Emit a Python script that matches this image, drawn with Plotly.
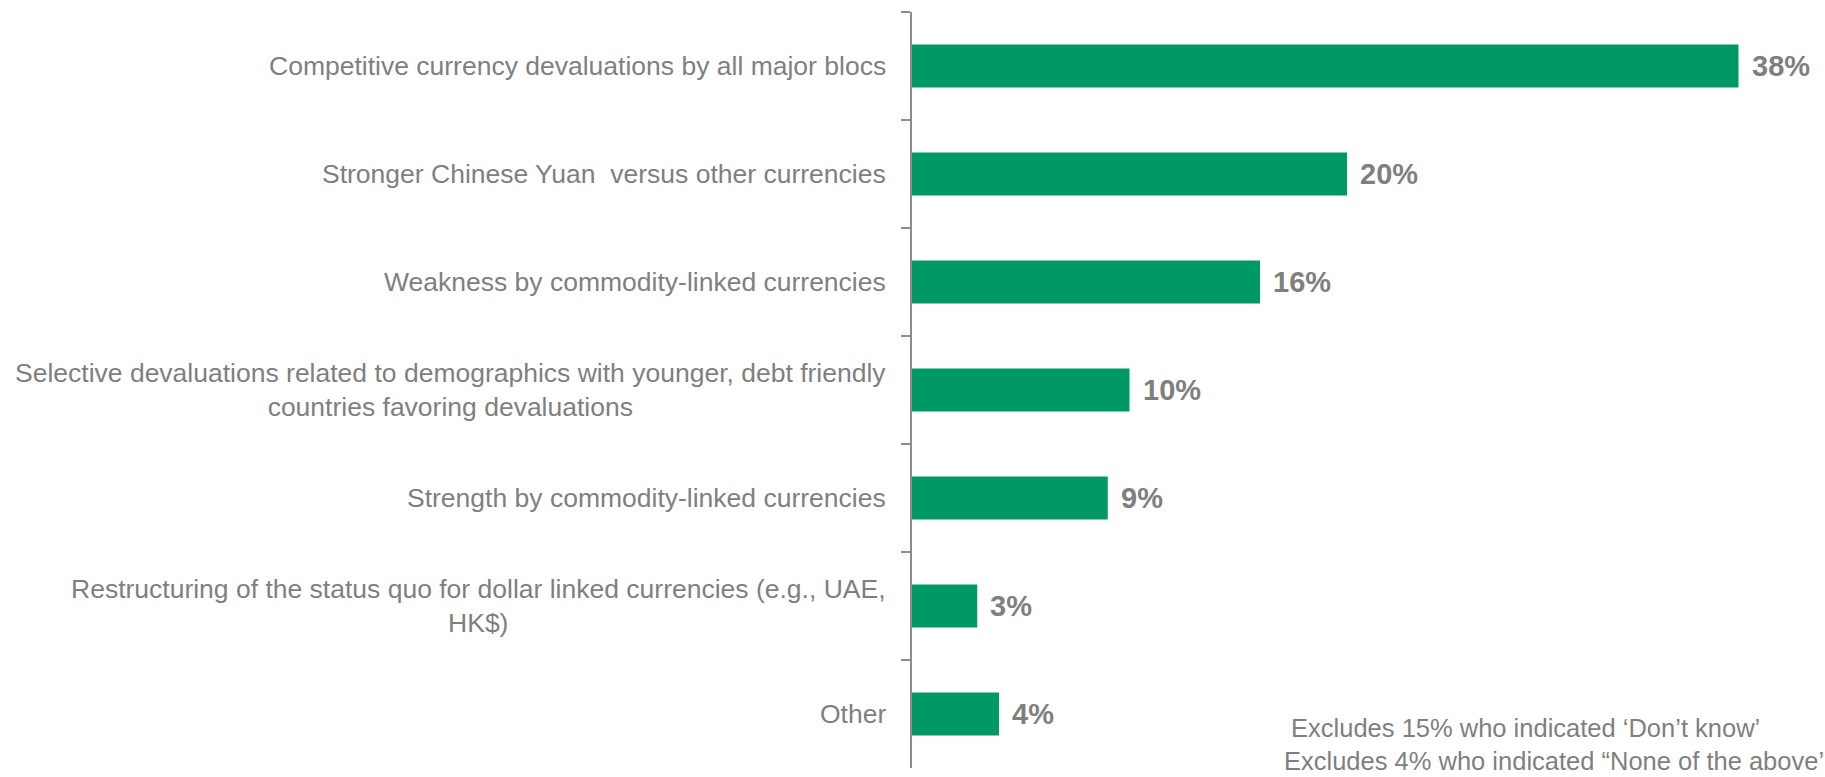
import plotly.graph_objects as go

# Survey responses, listed top to bottom
categories = [
    "Competitive currency devaluations by all major blocs",
    "Stronger Chinese Yuan  versus other currencies",
    "Weakness by commodity-linked currencies",
    "Selective devaluations related to demographics with younger, debt friendly<br>countries favoring devaluations",
    "Strength by commodity-linked currencies",
    "Restructuring of the status quo for dollar linked currencies (e.g., UAE,<br>HK$)",
    "Other",
]
values = [38, 20, 16, 10, 9, 3, 4]
value_labels = ["38%", "20%", "16%", "10%", "9%", "3%", "4%"]
footnotes = [
    "\u00a0Excludes 15% who indicated \u2018Don\u2019t know\u2019",
    "Excludes 4% who indicated \u201cNone of the above\u2019",
]

GREEN = "#009966"
GREY = "#7f7f7f"
AXIS_GREY = "#8c8c8c"
FONT = "Liberation Sans, Arial, sans-serif"

fig = go.Figure(
    go.Bar(
        x=values,
        y=categories,
        orientation="h",
        marker=dict(color=GREEN, line=dict(width=0)),
        hoverinfo="skip",
    )
)

# Category labels, centred multi-line text to the left of the axis
for cat in categories:
    fig.add_annotation(
        x=0, xref="paper", y=cat, yref="y",
        text=cat, showarrow=False,
        xanchor="right", yanchor="middle", align="center",
        xshift=-24,
        font=dict(family=FONT, size=26.5, color=GREY),
    )

# Value labels at the end of each bar
for cat, v, lab in zip(categories, values, value_labels):
    fig.add_annotation(
        x=v, xref="x", y=cat, yref="y",
        text="<b>" + lab + "</b>", showarrow=False,
        xanchor="left", yanchor="middle",
        xshift=11,
        font=dict(family=FONT, size=29, color=GREY),
    )

# Footnotes in the lower right corner
fig.add_annotation(
    x=0.4255, xref="paper", y=-0.0115, yref="paper",
    text="<br>".join(footnotes), showarrow=False,
    xanchor="left", yanchor="bottom", align="left",
    font=dict(family=FONT, size=25.5, color=GREY),
)

fig.update_layout(
    width=1825,
    height=777,
    margin=dict(l=912, r=43, t=12, b=9),
    paper_bgcolor="white",
    plot_bgcolor="white",
    bargap=0.6,
    showlegend=False,
    font=dict(family=FONT, color=GREY),
    xaxis=dict(
        range=[0, 40],
        visible=False,
        showgrid=False,
        zeroline=False,
    ),
    yaxis=dict(
        categoryorder="array",
        categoryarray=categories,
        autorange="reversed",
        showticklabels=False,
        showgrid=False,
        zeroline=False,
        showline=True,
        linecolor=AXIS_GREY,
        linewidth=2,
        ticks="outside",
        tickson="boundaries",
        ticklen=9,
        tickwidth=2,
        tickcolor=AXIS_GREY,
    ),
)

fig.write_html("out.html")
